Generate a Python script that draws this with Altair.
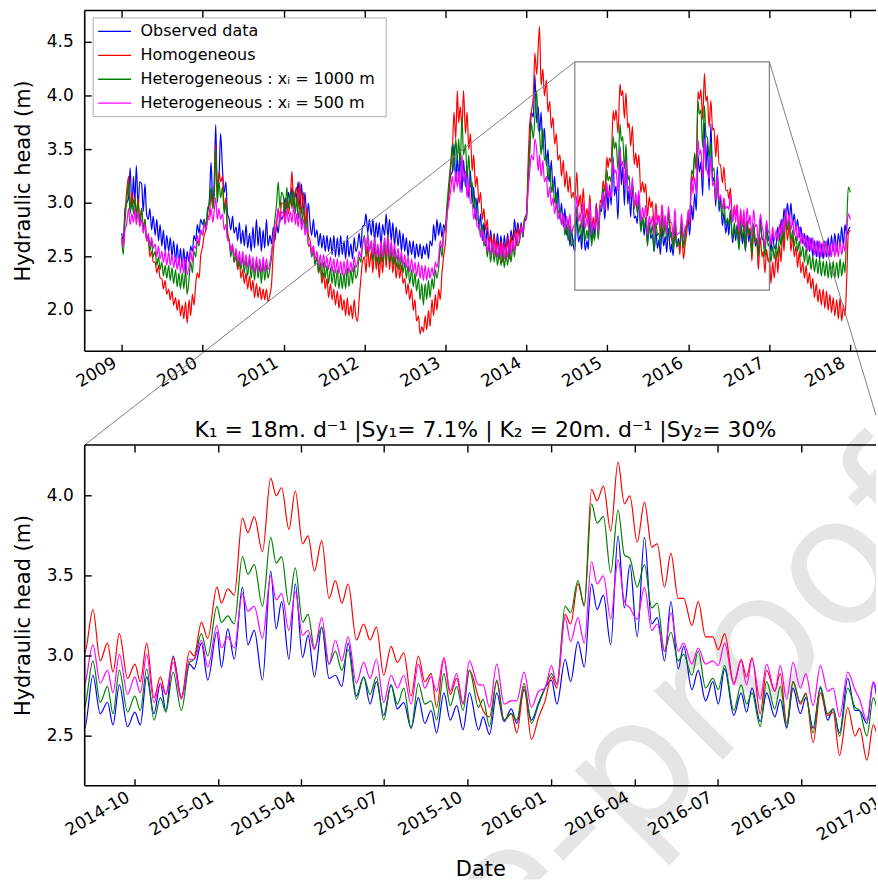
import altair as alt
import pandas as pd

FONT = "DejaVu Sans"

SERIES = ["Observed data", "Homogeneous",
          "Heterogeneous : xᵢ =  1000 m", "Heterogeneous : xᵢ =  500 m"]
COLORS = ["#0000ff", "#ff0000", "#008000", "#ff00ff"]

ZOOM_TITLE = "K₁ = 18m. d⁻¹ |Sy₁= 7.1% | K₂ = 20m. d⁻¹ |Sy₂= 30%"
Y_TITLE = "Hydraulic head (m)"
WATERMARK = "Journal Pre-proof"

# ---- weekly-ish values, 2009-01 .. 2014-07 (4 readings per month) + 2014-08-01
OBS_A = [
    2.72, 2.65, 2.95, 3.0, 3.05, 3.33, 2.95, 3.25, 3.0, 3.35, 2.95, 3.2, 3.18, 2.92, 3.18, 2.9, 2.85, 2.95, 2.75, 2.88, 2.7, 2.85, 2.65, 2.8,
    2.6, 2.75, 2.55, 2.7, 2.55, 2.68, 2.5, 2.65, 2.45, 2.62, 2.42, 2.58, 2.4, 2.58, 2.35, 2.55, 2.45, 2.6, 2.55, 2.7, 2.65, 2.8, 2.72, 2.85,
    2.8, 2.85, 2.75, 2.9, 3.05, 3.38, 3.0, 3.25, 3.73, 3.15, 3.25, 3.65, 3.3, 3.1, 3.2, 2.9, 2.85, 2.75, 2.88, 2.72, 2.78, 2.65, 2.82, 2.62,
    2.75, 2.6, 2.8, 2.58, 2.72, 2.55, 2.78, 2.58, 2.85, 2.6, 2.78, 2.55, 2.75, 2.58, 2.85, 2.6, 2.7, 2.62, 2.78, 2.65, 2.8, 2.72, 2.9, 2.85,
    2.9, 3.05, 2.95, 3.1, 3.0, 3.15, 2.95, 3.1, 3.05, 3.2, 2.95, 3.18, 2.9, 3.1, 2.85, 3.0, 2.8, 2.7, 2.85, 2.68, 2.75, 2.6, 2.72, 2.58,
    2.7, 2.55, 2.7, 2.55, 2.68, 2.52, 2.7, 2.5, 2.68, 2.5, 2.7, 2.52, 2.65, 2.48, 2.7, 2.5, 2.62, 2.48, 2.68, 2.55, 2.6, 2.72, 2.58, 2.78,
    2.8, 2.9, 2.72, 2.85, 2.7, 2.85, 2.65, 2.82, 2.68, 2.82, 2.6, 2.8, 2.7, 2.9, 2.68, 2.85, 2.65, 2.82, 2.6, 2.78, 2.6, 2.75, 2.55, 2.72,
    2.55, 2.68, 2.5, 2.65, 2.52, 2.65, 2.48, 2.62, 2.5, 2.62, 2.48, 2.6, 2.52, 2.62, 2.48, 2.65, 2.6, 2.8, 2.65, 2.85, 2.7, 2.82, 2.68, 2.8,
    2.75, 2.95, 3.1, 3.25, 3.3, 3.55, 3.2, 3.45, 3.2, 3.5, 3.1, 3.4, 3.15, 3.35, 3.05, 3.3, 3.0, 3.15, 2.85, 3.05, 2.75, 2.9, 2.65, 2.82,
    2.6, 2.78, 2.55, 2.75, 2.58, 2.72, 2.55, 2.72, 2.55, 2.7, 2.5, 2.7, 2.55, 2.72, 2.52, 2.75, 2.65, 2.85, 2.7, 2.82, 2.7, 2.82, 2.68, 2.85,
    2.85, 3.2, 3.5, 3.85, 3.8, 4.2, 3.75, 3.9, 3.65, 3.85, 3.5, 3.7, 3.35, 3.5, 3.2, 3.4, 3.1, 3.25, 2.95, 3.15, 2.85, 3.0, 2.78, 2.95,
    2.7, 2.85, 2.6, 2.75, 2.6,
]
HOM_A = [
    2.68, 2.6, 2.9, 3.1, 3.25, 2.95, 3.1, 3.0, 3.05, 2.9, 3.05, 2.85, 2.95, 2.75, 2.85, 2.65, 2.65, 2.5, 2.55, 2.45, 2.45, 2.35, 2.42, 2.3,
    2.3, 2.2, 2.28, 2.15, 2.2, 2.1, 2.18, 2.05, 2.12, 2.0, 2.1, 1.95, 2.05, 1.92, 2.08, 1.88, 2.1, 1.95, 2.15, 2.05, 2.25, 2.35, 2.3, 2.5,
    2.6, 2.7, 2.75, 2.85, 2.9, 3.1, 2.95, 3.15, 3.55, 3.05, 3.3, 3.2, 3.25, 2.95, 3.05, 2.75, 2.65, 2.55, 2.6, 2.45, 2.5, 2.38, 2.45, 2.3,
    2.38, 2.25, 2.35, 2.2, 2.32, 2.18, 2.28, 2.12, 2.25, 2.12, 2.22, 2.1, 2.2, 2.1, 2.2, 2.08, 2.15, 2.25, 2.55, 2.7, 2.8, 2.95, 2.85, 3.0,
    3.0, 2.85, 3.05, 2.9, 3.05, 3.3, 2.95, 3.1, 3.15, 2.95, 3.2, 2.9, 3.1, 2.8, 2.95, 2.7, 2.65, 2.55, 2.6, 2.45, 2.48, 2.35, 2.42, 2.25,
    2.35, 2.2, 2.3, 2.12, 2.25, 2.1, 2.2, 2.05, 2.18, 2.02, 2.15, 2.0, 2.1, 1.95, 2.12, 1.95, 2.05, 1.92, 2.1, 1.95, 1.9, 2.1, 2.3, 2.45,
    2.5, 2.35, 2.6, 2.4, 2.55, 2.35, 2.6, 2.38, 2.5, 2.3, 2.55, 2.35, 2.6, 2.4, 2.65, 2.38, 2.55, 2.35, 2.5, 2.3, 2.45, 2.3, 2.42, 2.25,
    2.3, 2.15, 2.25, 2.1, 2.2, 2.0, 2.1, 1.9, 1.95, 1.78, 1.85, 1.8, 1.95, 1.82, 2.0, 1.85, 2.1, 1.95, 2.15, 2.0, 2.2, 2.1, 2.35, 2.5,
    2.65, 2.9, 3.1, 3.3, 3.5, 3.85, 3.6, 4.05, 3.75, 3.9, 3.7, 4.05, 3.65, 3.85, 3.5, 3.65, 3.3, 3.45, 3.15, 3.25, 3.0, 3.1, 2.85, 2.95,
    2.75, 2.85, 2.6, 2.7, 2.55, 2.7, 2.5, 2.65, 2.48, 2.65, 2.45, 2.62, 2.5, 2.68, 2.48, 2.7, 2.55, 2.75, 2.6, 2.78, 2.65, 2.8, 2.7, 2.85,
    2.9, 3.35, 3.75, 3.85, 4.0, 4.4, 4.2, 4.45, 4.65, 4.1, 4.25, 4.0, 4.15, 3.85, 3.95, 3.7, 3.8, 3.55, 3.65, 3.4, 3.45, 3.25, 3.4, 3.15,
    3.3, 3.1, 3.25, 3.05, 3.1,
]
HET1000_A = [
    2.65, 2.52, 2.85, 3.0, 3.2, 2.9, 3.05, 2.9, 3.05, 2.85, 3.0, 2.8, 2.95, 2.75, 2.85, 2.65, 2.7, 2.55, 2.65, 2.5, 2.55, 2.42, 2.5, 2.38,
    2.45, 2.32, 2.42, 2.3, 2.42, 2.28, 2.4, 2.25, 2.38, 2.22, 2.35, 2.2, 2.35, 2.2, 2.38, 2.15, 2.3, 2.45, 2.35, 2.55, 2.5, 2.65, 2.6, 2.75,
    2.7, 2.85, 2.78, 2.95, 3.0, 3.15, 2.95, 3.1, 3.5, 3.0, 3.2, 3.05, 3.15, 2.9, 3.0, 2.7, 2.65, 2.5, 2.6, 2.45, 2.55, 2.4, 2.5, 2.38,
    2.5, 2.35, 2.48, 2.32, 2.48, 2.3, 2.45, 2.28, 2.45, 2.3, 2.42, 2.25, 2.45, 2.28, 2.42, 2.3, 2.4, 2.5, 2.7, 2.85, 3.0, 3.2, 2.95, 3.1,
    3.05, 2.9, 3.15, 2.95, 3.1, 2.95, 3.12, 2.9, 3.05, 2.85, 3.0, 2.8, 2.95, 2.75, 2.85, 2.6, 2.6, 2.5, 2.55, 2.42, 2.5, 2.35, 2.45, 2.3,
    2.45, 2.3, 2.42, 2.25, 2.4, 2.25, 2.38, 2.22, 2.38, 2.2, 2.35, 2.2, 2.35, 2.2, 2.4, 2.22, 2.38, 2.25, 2.42, 2.3, 2.35, 2.5, 2.45, 2.6,
    2.7, 2.5, 2.72, 2.55, 2.65, 2.45, 2.68, 2.45, 2.6, 2.42, 2.65, 2.45, 2.65, 2.45, 2.7, 2.45, 2.62, 2.42, 2.58, 2.4, 2.52, 2.38, 2.5, 2.35,
    2.45, 2.3, 2.42, 2.25, 2.38, 2.22, 2.35, 2.18, 2.3, 2.1, 2.25, 2.05, 2.25, 2.1, 2.28, 2.12, 2.3, 2.2, 2.38, 2.3, 2.4, 2.6, 2.5, 2.7,
    2.8, 3.0, 3.2, 3.35, 3.55, 3.3, 3.6, 3.4, 3.6, 3.35, 3.8, 3.45, 3.55, 3.25, 3.45, 3.15, 3.2, 2.95, 3.05, 2.85, 2.85, 2.7, 2.8, 2.6,
    2.65, 2.5, 2.62, 2.45, 2.6, 2.45, 2.58, 2.42, 2.55, 2.42, 2.55, 2.4, 2.52, 2.42, 2.58, 2.45, 2.6, 2.5, 2.7, 2.6, 2.65, 2.78, 2.7, 2.85,
    2.9, 3.2, 3.5, 3.75, 3.6, 3.8, 4.05, 3.7, 3.65, 3.45, 3.7, 3.4, 3.45, 3.2, 3.35, 3.1, 3.2, 3.0, 3.1, 2.9, 2.95, 2.8, 2.9, 2.7,
    2.8, 2.65, 2.8, 2.6, 2.65,
]
HET500_A = [
    2.68, 2.6, 2.75, 2.8, 2.95, 2.8, 2.9, 2.82, 2.95, 2.8, 2.92, 2.78, 2.85, 2.72, 2.8, 2.65, 2.72, 2.6, 2.68, 2.58, 2.62, 2.5, 2.6, 2.48,
    2.55, 2.45, 2.55, 2.42, 2.55, 2.42, 2.52, 2.4, 2.5, 2.38, 2.5, 2.35, 2.48, 2.35, 2.5, 2.33, 2.42, 2.55, 2.45, 2.6, 2.58, 2.7, 2.62, 2.75,
    2.7, 2.8, 2.75, 2.85, 2.85, 2.95, 2.82, 2.95, 3.05, 2.85, 2.95, 2.85, 2.9, 2.75, 2.8, 2.65, 2.65, 2.55, 2.62, 2.5, 2.58, 2.45, 2.55, 2.42,
    2.55, 2.42, 2.52, 2.4, 2.52, 2.38, 2.5, 2.35, 2.5, 2.36, 2.48, 2.35, 2.5, 2.36, 2.48, 2.38, 2.45, 2.55, 2.68, 2.8, 2.85, 2.95, 2.82, 2.92,
    2.9, 2.8, 2.95, 2.82, 2.92, 2.82, 2.98, 2.8, 2.9, 2.78, 2.92, 2.75, 2.85, 2.7, 2.78, 2.6, 2.62, 2.52, 2.6, 2.48, 2.55, 2.42, 2.52, 2.4,
    2.52, 2.4, 2.5, 2.38, 2.5, 2.36, 2.48, 2.35, 2.48, 2.34, 2.46, 2.33, 2.46, 2.33, 2.48, 2.35, 2.45, 2.36, 2.5, 2.4, 2.45, 2.55, 2.5, 2.62,
    2.68, 2.55, 2.7, 2.55, 2.65, 2.52, 2.68, 2.5, 2.62, 2.5, 2.65, 2.5, 2.68, 2.52, 2.7, 2.5, 2.65, 2.5, 2.62, 2.48, 2.58, 2.45, 2.55, 2.42,
    2.52, 2.4, 2.5, 2.36, 2.48, 2.35, 2.45, 2.32, 2.45, 2.3, 2.42, 2.28, 2.42, 2.28, 2.4, 2.3, 2.4, 2.32, 2.45, 2.4, 2.5, 2.65, 2.58, 2.72,
    2.75, 2.9, 3.0, 3.1, 3.25, 3.1, 3.3, 3.15, 3.3, 3.1, 3.45, 3.2, 3.3, 3.05, 3.2, 3.0, 3.0, 2.85, 2.95, 2.78, 2.8, 2.68, 2.75, 2.62,
    2.68, 2.55, 2.65, 2.52, 2.65, 2.52, 2.62, 2.5, 2.62, 2.5, 2.62, 2.48, 2.6, 2.5, 2.65, 2.52, 2.65, 2.55, 2.72, 2.62, 2.68, 2.78, 2.72, 2.82,
    2.85, 3.1, 3.3, 3.45, 3.4, 3.6, 3.5, 3.3, 3.45, 3.25, 3.4, 3.2, 3.25, 3.05, 3.15, 2.98, 3.05, 2.9, 3.0, 2.85, 2.92, 2.8, 2.9, 2.75,
    2.88, 2.75, 2.9, 2.72, 2.78,
]

# ---- zoomed window, 2014-08 .. 2016-12
WIN_DATES = [
    "2014-08-07", "2014-08-16", "2014-08-24", "2014-09-01", "2014-09-07", "2014-09-14", "2014-09-23", "2014-10-01", "2014-10-07", "2014-10-14",
    "2014-10-22", "2014-10-29", "2014-11-04", "2014-11-12", "2014-11-21", "2014-11-30", "2014-12-05", "2014-12-13", "2014-12-20", "2014-12-30",
    "2015-01-04", "2015-01-11", "2015-01-18", "2015-01-27", "2015-02-02", "2015-02-09", "2015-02-18", "2015-02-27", "2015-03-05", "2015-03-11",
    "2015-03-19", "2015-03-26", "2015-04-03", "2015-04-09", "2015-04-16", "2015-04-24", "2015-05-02", "2015-05-09", "2015-05-16", "2015-05-23",
    "2015-06-01", "2015-06-09", "2015-06-16", "2015-06-23", "2015-07-01", "2015-07-09", "2015-07-16", "2015-07-23", "2015-07-31", "2015-08-08",
    "2015-08-15", "2015-08-22", "2015-08-28", "2015-09-05", "2015-09-12", "2015-09-19", "2015-09-26", "2015-10-03", "2015-10-13", "2015-10-18",
    "2015-10-25", "2015-11-02", "2015-11-10", "2015-11-18", "2015-11-24", "2015-12-02", "2015-12-10", "2015-12-18", "2015-12-25", "2016-01-01",
    "2016-01-07", "2016-01-16", "2016-01-22", "2016-01-30", "2016-02-06", "2016-02-14", "2016-02-20", "2016-02-27", "2016-03-06", "2016-03-14",
    "2016-03-21", "2016-03-27", "2016-04-04", "2016-04-12", "2016-04-20", "2016-04-26", "2016-05-04", "2016-05-11", "2016-05-19", "2016-05-25",
    "2016-06-03", "2016-06-10", "2016-06-18", "2016-06-26", "2016-07-02", "2016-07-09", "2016-07-19", "2016-07-27", "2016-08-02", "2016-08-08",
    "2016-08-17", "2016-08-24", "2016-09-02", "2016-09-08", "2016-09-15", "2016-09-22", "2016-09-30", "2016-10-06", "2016-10-14", "2016-10-22",
    "2016-10-30", "2016-11-05", "2016-11-12", "2016-11-21", "2016-11-29", "2016-12-04", "2016-12-12", "2016-12-19", "2016-12-27",
]
OBS_WIN = [
    2.55, 2.88, 2.64, 2.71, 2.57, 2.82, 2.56, 2.65, 2.57, 2.87,
    2.64, 2.83, 2.66, 3.00, 2.74, 2.95, 2.92, 3.08, 2.85, 3.15,
    2.93, 3.17, 2.98, 3.43, 3.07, 3.16, 2.85, 3.53, 3.17, 3.34,
    2.98, 3.45, 2.99, 3.13, 2.87, 3.18, 2.86, 2.88, 2.81, 3.08,
    2.75, 2.87, 2.70, 2.84, 2.63, 2.82, 2.67, 2.71, 2.55, 2.74,
    2.58, 2.66, 2.52, 2.77, 2.60, 2.69, 2.54, 2.77, 2.54, 2.62,
    2.51, 2.77, 2.59, 2.67, 2.58, 2.79, 2.60, 2.71, 2.80, 2.85,
    2.70, 2.98, 2.84, 3.09, 2.93, 3.45, 3.29, 3.38, 3.07, 3.75,
    3.30, 3.57, 3.12, 3.74, 3.20, 3.24, 2.97, 3.34, 2.92, 3.06,
    2.79, 2.91, 2.72, 2.84, 2.70, 2.92, 2.63, 2.77, 2.65, 2.80,
    2.59, 2.77, 2.62, 2.73, 2.55, 2.80, 2.64, 2.74, 2.55, 2.80,
    2.60, 2.67, 2.52, 2.86, 2.66, 2.66, 2.58, 2.83, 2.65,
]
HOM_WIN = [
    3.02, 3.29, 2.97, 3.08, 2.90, 3.14, 2.86, 2.95, 2.84, 3.08,
    2.74, 2.87, 2.76, 2.99, 2.74, 3.03, 3.00, 3.21, 3.11, 3.43,
    3.33, 3.42, 3.38, 3.86, 3.77, 3.87, 3.65, 4.11, 4.00, 4.05,
    3.79, 4.03, 3.70, 3.75, 3.53, 3.72, 3.36, 3.47, 3.33, 3.45,
    3.10, 3.20, 3.10, 3.18, 2.88, 3.06, 2.96, 3.02, 2.75, 3.00,
    2.84, 2.89, 2.68, 2.98, 2.76, 2.86, 2.70, 2.91, 2.74, 2.66,
    2.62, 2.84, 2.60, 2.64, 2.52, 2.81, 2.48, 2.62, 2.72, 2.87,
    2.80, 3.26, 3.20, 3.45, 3.32, 4.04, 3.97, 4.06, 3.78, 4.21,
    3.95, 4.00, 3.71, 3.96, 3.68, 3.70, 3.43, 3.64, 3.36, 3.36,
    3.19, 3.34, 3.12, 3.12, 3.04, 3.14, 2.83, 2.98, 2.87, 2.99,
    2.64, 2.91, 2.78, 2.89, 2.58, 2.84, 2.70, 2.77, 2.46, 2.77,
    2.63, 2.65, 2.38, 2.68, 2.50, 2.55, 2.35, 2.57, 2.45,
]
HET1000_WIN = [
    2.68, 2.97, 2.71, 2.81, 2.64, 2.91, 2.65, 2.75, 2.66, 2.92,
    2.60, 2.74, 2.65, 2.90, 2.66, 2.96, 2.98, 3.14, 3.00, 3.31,
    3.21, 3.25, 3.20, 3.62, 3.51, 3.57, 3.31, 3.74, 3.58, 3.62,
    3.32, 3.55, 3.21, 3.26, 3.05, 3.18, 2.95, 3.03, 2.91, 3.04,
    2.73, 2.87, 2.76, 2.87, 2.60, 2.82, 2.70, 2.80, 2.55, 2.83,
    2.70, 2.72, 2.60, 2.89, 2.69, 2.81, 2.66, 2.91, 2.68, 2.73,
    2.56, 2.85, 2.60, 2.64, 2.60, 2.83, 2.58, 2.70, 2.80, 2.89,
    2.83, 3.31, 3.27, 3.47, 3.31, 3.95, 3.83, 3.87, 3.52, 3.91,
    3.63, 3.61, 3.43, 3.57, 3.30, 3.33, 3.03, 3.15, 2.97, 3.01,
    2.88, 3.03, 2.80, 2.86, 2.79, 2.94, 2.66, 2.82, 2.70, 2.77,
    2.56, 2.84, 2.67, 2.81, 2.56, 2.84, 2.71, 2.76, 2.52, 2.81,
    2.64, 2.67, 2.50, 2.80, 2.68, 2.66, 2.50, 2.74, 2.60,
]
HET500_WIN = [
    2.82, 3.07, 2.83, 2.91, 2.77, 3.01, 2.76, 2.87, 2.77, 3.01,
    2.71, 2.83, 2.76, 2.96, 2.73, 2.98, 2.98, 3.10, 2.93, 3.19,
    3.05, 3.12, 3.05, 3.39, 3.28, 3.31, 3.11, 3.50, 3.35, 3.39,
    3.16, 3.40, 3.13, 3.16, 3.04, 3.24, 2.95, 3.10, 2.97, 3.12,
    2.83, 2.96, 2.86, 2.98, 2.71, 2.88, 2.80, 2.88, 2.70, 2.95,
    2.80, 2.87, 2.78, 2.99, 2.78, 2.89, 2.70, 2.97, 2.82, 2.82,
    2.68, 2.95, 2.70, 2.72, 2.72, 2.90, 2.68, 2.78, 2.80, 2.94,
    2.82, 3.24, 3.09, 3.24, 3.08, 3.59, 3.45, 3.50, 3.23, 3.60,
    3.34, 3.30, 3.23, 3.43, 3.16, 3.20, 3.03, 3.27, 3.03, 3.08,
    2.95, 3.05, 2.95, 2.97, 2.94, 3.08, 2.82, 2.97, 2.82, 2.98,
    2.73, 2.95, 2.78, 2.94, 2.73, 2.96, 2.80, 2.89, 2.69, 2.94,
    2.78, 2.80, 2.62, 2.90, 2.79, 2.73, 2.60, 2.84, 2.72,
]

# ---- 2017 (4 readings per month) + 2018-01-01
OBS_C = [
    2.7, 2.55, 2.72, 2.58, 2.62, 2.78, 2.65, 2.85, 2.75, 2.95, 2.8, 3.0, 2.85, 3.0, 2.8, 2.9, 2.75, 2.85, 2.68, 2.78, 2.62, 2.72, 2.58, 2.7,
    2.55, 2.68, 2.5, 2.65, 2.5, 2.65, 2.48, 2.62, 2.48, 2.65, 2.5, 2.68, 2.5, 2.7, 2.55, 2.72, 2.55, 2.72, 2.6, 2.78, 2.6, 2.8, 2.7, 2.75,
    2.78,
]
HOM_C = [
    2.5, 2.25, 2.45, 2.3, 2.55, 2.35, 2.6, 2.45, 2.75, 2.55, 2.9, 2.65, 2.8, 2.55, 2.7, 2.5, 2.6, 2.4, 2.55, 2.35, 2.45, 2.3, 2.42, 2.25,
    2.35, 2.2, 2.3, 2.12, 2.25, 2.08, 2.2, 2.05, 2.2, 2.02, 2.18, 2.0, 2.15, 1.98, 2.12, 1.95, 2.1, 1.92, 2.12, 1.9, 2.05, 1.95, 2.3, 2.72,
    2.75,
]
HET1000_C = [
    2.62, 2.45, 2.6, 2.48, 2.62, 2.5, 2.7, 2.6, 2.8, 2.65, 2.95, 2.75, 2.85, 2.65, 2.75, 2.6, 2.7, 2.55, 2.65, 2.5, 2.6, 2.45, 2.58, 2.42,
    2.52, 2.38, 2.5, 2.36, 2.48, 2.34, 2.48, 2.32, 2.46, 2.32, 2.46, 2.3, 2.45, 2.3, 2.46, 2.3, 2.45, 2.3, 2.48, 2.32, 2.45, 2.35, 2.8, 3.15,
    3.1,
]
HET500_C = [
    2.75, 2.62, 2.78, 2.65, 2.75, 2.65, 2.8, 2.7, 2.85, 2.72, 2.95, 2.8, 2.9, 2.75, 2.85, 2.7, 2.8, 2.65, 2.78, 2.62, 2.72, 2.6, 2.7, 2.55,
    2.68, 2.55, 2.68, 2.52, 2.65, 2.5, 2.65, 2.5, 2.65, 2.5, 2.65, 2.5, 2.62, 2.5, 2.65, 2.5, 2.62, 2.5, 2.65, 2.52, 2.62, 2.55, 2.75, 2.9,
    2.85,
]

TOP_YEARS = list(range(2009, 2019))
ZOOM_TICKS = [(2014, 10), (2015, 1), (2015, 4), (2015, 7), (2015, 10), (2016, 1),
              (2016, 4), (2016, 7), (2016, 10)]
ZOOM_LAST_TICK = (2017, 1)       # sits just past the right page edge
TOP_Y_TICKS = [2.0, 2.5, 3.0, 3.5, 4.0, 4.5]
ZOOM_Y_TICKS = [2.5, 3.0, 3.5, 4.0]

# ---- layout (pixels) and axis extents; both panels run to the right page edge
PANEL_W = 794
TOP_H = 342
ZOOM_H = 342
GAP = 94
FOOT_H = 94
TICK = 7
LABEL_PAD = 3
LABEL_SHIFT = -11
TOP_X = ((2008, 7, 18), (2018, 4, 27))
TOP_Y = (1.619, 4.797)
ZOOM_X = ((2014, 8, 7), (2016, 12, 22))
ZOOM_END = (2017, 1, 1)          # right edge of the zoomed window, just past the page edge
ZOOM_END_PX = PANEL_W + 9
ZOOM_Y = (2.19, 4.317)
# stamp anchor, measured from the top-left corner of the overview panel
STAMP_X, STAMP_Y = 352, 1040


def iso(t):
    return "%04d-%02d-%02d" % t


def utc(t):
    return alt.DateTime(year=t[0], month=t[1], date=t[2], utc=True)


def quarter_month_dates(y0, m0, y1, m1):
    out = []
    y, m = y0, m0
    while (y, m) <= (y1, m1):
        for d in (1, 8, 16, 23):
            out.append(iso((y, m, d)))
        m += 1
        if m > 12:
            y, m = y + 1, 1
    return out


DATES = (quarter_month_dates(2009, 1, 2014, 7) + ["2014-08-01"]
         + WIN_DATES
         + quarter_month_dates(2017, 1, 2017, 12) + ["2018-01-01"])

rows = []
for k, parts in enumerate([(OBS_A, OBS_WIN, OBS_C), (HOM_A, HOM_WIN, HOM_C),
                           (HET1000_A, HET1000_WIN, HET1000_C), (HET500_A, HET500_WIN, HET500_C)]):
    vals = parts[0] + parts[1] + parts[2]
    assert len(vals) == len(DATES), (k, len(vals), len(DATES))
    for d, v in zip(DATES, vals):
        rows.append({"date": d, "head": v, "series": SERIES[k], "k": k})
df = pd.DataFrame(rows)

TEXT = dict(labelFont=FONT, labelFontSize=17, labelColor="black",
            titleFont=FONT, titleFontSize=21, titleFontWeight="normal", titleColor="black")
XTICKS = dict(domain=False, grid=False, ticks=True, tickSize=TICK, tickWidth=1.4,
              tickColor="black", offset=-TICK)


def x_axis_bottom(values, fmt, title=None):
    return alt.Axis(orient="bottom", values=values, format=fmt, labelAngle=330,
                    labelAlign="right", labelBaseline="top", labelPadding=LABEL_PAD,
                    labelOffset=LABEL_SHIFT, labelOverlap=False, labelFlush=False,
                    title=title, titlePadding=21, **XTICKS, **TEXT)


def x_axis_top(values):
    return alt.Axis(orient="top", values=values, labels=False, title=None, **XTICKS, **TEXT)


# a 33 px line sample drawn from a 16.5 px legend symbol slot
LEGEND = alt.Legend(title=None, orient="none", legendX=8, legendY=7,
                    symbolType="M-2,0H2", symbolSize=272, symbolStrokeWidth=1.3,
                    symbolOffset=8, labelFont=FONT, labelFontSize=16, labelColor="black",
                    labelLimit=400, labelOffset=17, padding=5, rowPadding=7,
                    strokeColor="#b0b0b0", fillColor="white", cornerRadius=0)


def series_layers(xs, ys, xb, xt, with_legend):
    layers = []
    for k in range(4):
        enc = dict(
            x=alt.X("date:T", scale=xs, axis=xb if k == 0 else (xt if k == 1 else None)),
            y=alt.Y("head:Q", scale=ys, axis=None),
        )
        if with_legend:
            enc["color"] = alt.Color("series:N", scale=alt.Scale(domain=SERIES, range=COLORS),
                                     legend=LEGEND)
        else:
            enc["color"] = alt.value(COLORS[k])
        layers.append(
            alt.Chart(df).transform_filter(alt.datum.k == k)
            .mark_line(strokeWidth=1.2, interpolate="monotone", clip=True)
            .encode(**enc)
        )
    return layers


def frame_and_y_axis(xs, ys, x_dom, y_dom, yticks, height):
    """Left/top/bottom frame lines, inward y ticks, y tick labels and the y title."""
    frame = pd.DataFrame({
        "x0": [iso(x_dom[0]), iso(x_dom[0]), iso(x_dom[0])],
        "x1": [iso(x_dom[0]), iso(x_dom[1]), iso(x_dom[1])],
        "y0": [y_dom[0], y_dom[1], y_dom[0]],
        "y1": [y_dom[1], y_dom[1], y_dom[0]],
    })
    edges = alt.Chart(frame).mark_rule(color="black", strokeWidth=1.6).encode(
        x=alt.X("x0:T", scale=xs, axis=None), x2="x1:T",
        y=alt.Y("y0:Q", scale=ys, axis=None), y2="y1:Q",
    )
    tick_df = pd.DataFrame({"v": yticks, "lab": ["%.1f" % v for v in yticks]})
    ticks = alt.Chart(tick_df).mark_rule(color="black", strokeWidth=1.4).encode(
        y=alt.Y("v:Q", scale=ys, axis=None), x=alt.value(0), x2=alt.value(TICK),
    )
    labels = alt.Chart(tick_df).mark_text(
        align="right", baseline="middle", font=FONT, fontSize=17, color="black",
    ).encode(y=alt.Y("v:Q", scale=ys, axis=None), x=alt.value(-11), text="lab:N")
    title = alt.Chart(pd.DataFrame({"t": [Y_TITLE]})).mark_text(
        angle=270, align="center", baseline="middle", font=FONT, fontSize=21, color="black",
    ).encode(text="t:N", x=alt.value(-61), y=alt.value(height / 2))
    return [edges, ticks, labels, title]


def stamp(panel_top):
    """The diagonal 'Journal Pre-proof' stamp, clipped to one horizontal band of the page."""
    return alt.Chart(pd.DataFrame({"t": [WATERMARK]})).mark_text(
        angle=315, align="center", baseline="alphabetic", font=FONT, fontSize=178,
        color="black", opacity=0.1, clip=True,
    ).encode(text="t:N", x=alt.value(STAMP_X), y=alt.value(STAMP_Y - panel_top))


# ---- overview panel
top_xs = alt.Scale(type="utc", domain=[utc(TOP_X[0]), utc(TOP_X[1])], nice=False)
top_ys = alt.Scale(domain=list(TOP_Y), nice=False, zero=False)
year_ticks = [utc((y, 1, 1)) for y in TOP_YEARS]

top_lines = series_layers(top_xs, top_ys, x_axis_bottom(year_ticks, "%Y"),
                          x_axis_top(year_ticks), True)

inset = pd.DataFrame({"x0": [iso(ZOOM_X[0])], "x1": [iso(ZOOM_END)],
                      "y0": [ZOOM_Y[0]], "y1": [ZOOM_Y[1]]})
inset_box = alt.Chart(inset).mark_rect(fillOpacity=0, stroke="#808080", strokeWidth=1.2).encode(
    x=alt.X("x0:T", scale=top_xs, axis=None), x2="x1:T",
    y=alt.Y("y0:Q", scale=top_ys, axis=None), y2="y1:Q",
)

# connector lines from the inset box to the top corners of the zoom panel
y_per_px = (TOP_Y[1] - TOP_Y[0]) / TOP_H
y_zoom_top = TOP_Y[0] - GAP * y_per_px
days_total = (pd.Timestamp(iso(TOP_X[1])) - pd.Timestamp(iso(TOP_X[0]))).days
box_right_px = (pd.Timestamp(iso(ZOOM_END)) - pd.Timestamp(iso(TOP_X[0]))).days / days_total * PANEL_W
box_top_px = (TOP_Y[1] - ZOOM_Y[1]) / y_per_px
t_edge = (PANEL_W - box_right_px) / (ZOOM_END_PX - box_right_px)
right_end_y = TOP_Y[1] - (box_top_px + t_edge * (TOP_H + GAP - box_top_px)) * y_per_px
links = pd.DataFrame({
    "xa": [iso(ZOOM_X[0]), iso(ZOOM_END)], "ya": [ZOOM_Y[1], ZOOM_Y[1]],
    "xb": [iso(TOP_X[0]), iso(TOP_X[1])], "yb": [y_zoom_top, right_end_y],
})
link_lines = alt.Chart(links).mark_rule(color="#808080", strokeWidth=1.0).encode(
    x=alt.X("xa:T", scale=top_xs, axis=None), x2="xb:T",
    y=alt.Y("ya:Q", scale=top_ys, axis=None), y2="yb:Q",
)

top = alt.layer(
    *top_lines, inset_box, link_lines,
    *frame_and_y_axis(top_xs, top_ys, TOP_X, TOP_Y, TOP_Y_TICKS, TOP_H),
).properties(width=PANEL_W, height=TOP_H)

# band between the panels (tick labels and title live here)
between = stamp(TOP_H).properties(width=PANEL_W, height=GAP)

# ---- zoom panel
zoom_xs = alt.Scale(type="utc", domain=[utc(ZOOM_X[0]), utc(ZOOM_X[1])], nice=False)
zoom_ys = alt.Scale(domain=list(ZOOM_Y), nice=False, zero=False)
quarter_ticks = [utc((y, m, 1)) for y, m in ZOOM_TICKS]

zoom_lines = series_layers(zoom_xs, zoom_ys, x_axis_bottom(quarter_ticks, "%Y-%m", "Date"),
                           x_axis_top(quarter_ticks), False)

zoom = alt.layer(
    stamp(TOP_H + GAP), *zoom_lines,
    *frame_and_y_axis(zoom_xs, zoom_ys, ZOOM_X, ZOOM_Y, ZOOM_Y_TICKS, ZOOM_H),
).properties(
    width=PANEL_W, height=ZOOM_H,
    title=alt.TitleParams(ZOOM_TITLE, font=FONT, fontSize=22, fontWeight="normal",
                          color="black", offset=2, dx=5, anchor="middle"),
)

# band under the zoom panel: the stamp and the last date label, both cut at the page edge
last_label = alt.Chart(pd.DataFrame({
    "d": [iso((ZOOM_LAST_TICK[0], ZOOM_LAST_TICK[1], 1))],
    "lab": ["%04d-%02d" % ZOOM_LAST_TICK],
})).mark_text(
    angle=330, align="right", baseline="top", font=FONT, fontSize=17, color="black",
    dx=LABEL_SHIFT, clip=True,
).encode(x=alt.X("d:T", scale=zoom_xs, axis=None), y=alt.value(LABEL_PAD), text="lab:N")
below = alt.layer(stamp(TOP_H + GAP + ZOOM_H), last_label).properties(width=PANEL_W, height=FOOT_H)

chart = (
    alt.vconcat(top, between, zoom, below, spacing=0, bounds="flush")
    .resolve_scale(x="independent", y="independent")
    .properties(padding={"left": 12, "top": 7, "right": 0, "bottom": 0}, background="white")
    .configure_view(stroke="transparent")
)

chart.save("out.html", embed_options={"renderer": "svg", "actions": False})
